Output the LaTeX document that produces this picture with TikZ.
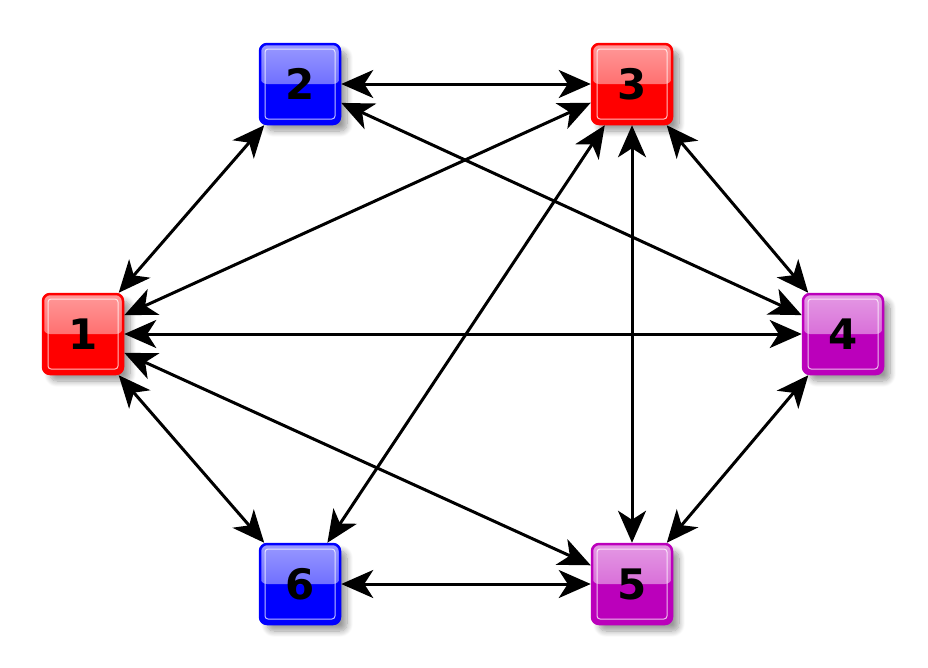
\documentclass[tikz,border=0pt]{standalone}
\usepackage{fontspec}
\setsansfont{DejaVu Sans}
\usetikzlibrary{arrows.meta, calc, shadows.blur}
\definecolor{NodeRed}{HTML}{FF0000}
\definecolor{NodeBlue}{HTML}{0000FF}
\definecolor{NodePurple}{HTML}{BB00BB}
\tikzset{
    % Glossy square node, colour as argument
    box/.style={
        rectangle,
        rounded corners=7pt,
        minimum size=80pt,
        inner sep=0pt,
        draw=#1,
        line width=2.5pt,
        fill=#1,
        text=black,
        font=\sffamily\bfseries\fontsize{42}{42}\selectfont,
        blur shadow={shadow xshift=7pt, shadow yshift=-7pt, shadow blur radius=6pt, shadow blur steps=10, shadow opacity=40},
        path picture={
            \fill[top color=#1!40!white, bottom color=#1!72!white]
                (path picture bounding box.north west) rectangle (path picture bounding box.east);
            \draw[white, opacity=0.75, line width=1pt, rounded corners=3pt]
                ([shift={(5pt,-5pt)}]path picture bounding box.north west) rectangle
                ([shift={(-5pt,5pt)}]path picture bounding box.south east);
        }
    },
    % Colour variants
    redbox/.style={box=NodeRed},
    bluebox/.style={box=NodeBlue},
    purplebox/.style={box=NodePurple},
    % Two-way link
    link/.style={
        {Stealth[length=32pt,width=28pt,inset=9pt]}-{Stealth[length=32pt,width=28pt,inset=9pt]},
        line width=3pt,
        color=black
    }
}
\begin{document}
\begin{tikzpicture}[x=1pt, y=-1pt]
    \useasboundingbox (0,0) rectangle (928,667);

    % Nodes
    \node (n1) [redbox] at (83,334) {1};
    \node (n2) [bluebox] at (300,84) {2};
    \node (n3) [redbox] at (632,84) {3};
    \node (n4) [purplebox] at (843,334) {4};
    \node (n5) [purplebox] at (632,584) {5};
    \node (n6) [bluebox] at (300,584) {6};

    % Links
    \draw [link] (n1) -- (n2);
    \draw [link] (n1) -- (n3);
    \draw [link] (n1) -- (n4);
    \draw [link] (n1) -- (n5);
    \draw [link] (n1) -- (n6);
    \draw [link] (n2) -- (n3);
    \draw [link] (n2) -- (n4);
    \draw [link] (n3) -- (n4);
    \draw [link] (n3) -- (n5);
    \draw [link] (n3) -- (n6);
    \draw [link] (n4) -- (n5);
    \draw [link] (n6) -- (n5);
\end{tikzpicture}
\end{document}
